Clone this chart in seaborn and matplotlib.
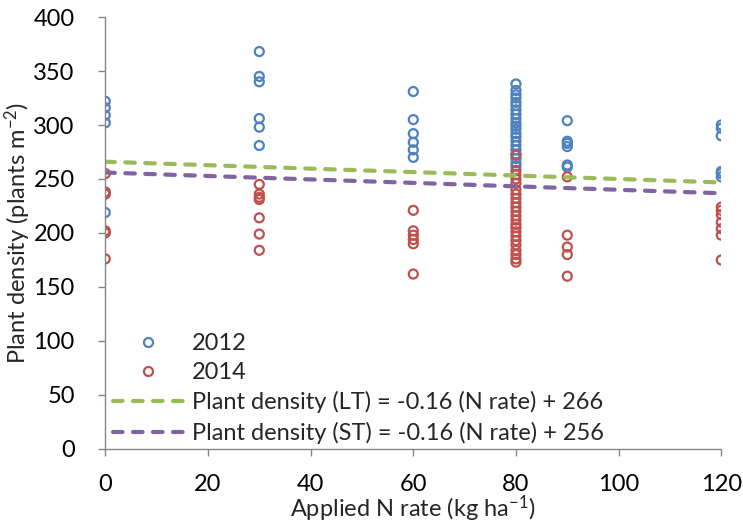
import numpy as np
import pandas as pd
import matplotlib
matplotlib.use("Agg")
import matplotlib.pyplot as plt
from matplotlib.lines import Line2D
import seaborn as sns

# Plant density observations (plants m-2) by applied N rate (kg ha-1)
n_rates = [0, 30, 60, 80, 90, 120]

density_2012 = {
    0: [322, 316, 309, 302, 237, 219],
    30: [368, 345, 340, 306, 298, 281],
    60: [331, 305, 292, 284, 277, 270],
    80: [338, 332, 328, 325, 321, 318, 314, 310, 306, 302, 299, 296,
         292, 289, 285, 281, 277, 273, 269, 265, 262],
    90: [304, 285, 283, 280, 263, 261],
    120: [300, 297, 290, 257, 255, 252],
}

density_2014 = {
    0: [255, 238, 236, 202, 200, 176],
    30: [245, 236, 233, 231, 214, 199, 184],
    60: [221, 202, 198, 194, 190, 162],
    80: [272, 258, 254, 250, 246, 240, 236, 232, 228, 224, 220, 216,
         212, 208, 205, 201, 197, 193, 189, 184, 180, 176, 173],
    90: [252, 198, 187, 180, 160],
    120: [224, 221, 217, 210, 204, 198, 175],
}

# Linear fits: density = slope * N rate + intercept
fit_names = ["LT", "ST"]
fit_slopes = [-0.16, -0.16]
fit_intercepts = [266, 256]
fit_range = [0, 120]

years = ["2012", "2014"]
year_colors = ["#4F81BD", "#C0504D"]
fit_colors = ["#9BBB59", "#8064A2"]

rows = []
for year, table in zip(years, [density_2012, density_2014]):
    for rate in n_rates:
        for v in table[rate]:
            rows.append({"N rate": rate, "density": v, "year": year})
obs = pd.DataFrame(rows)

fit_rows = []
for name, m, b in zip(fit_names, fit_slopes, fit_intercepts):
    label = f"Plant density ({name}) = {m:.2f} (N rate) + {b}"
    for xv in fit_range:
        fit_rows.append({"N rate": xv, "density": b + m * xv, "fit": label})
fits = pd.DataFrame(fit_rows)
fit_labels = list(fits["fit"].unique())

sns.set_theme(style="ticks")
plt.rcParams["font.family"] = ["Lato", "DejaVu Sans"]
plt.rcParams["mathtext.fontset"] = "custom"
plt.rcParams["mathtext.rm"] = "Lato"
plt.rcParams["mathtext.it"] = "Lato:italic"

FS = 17
LW_FIT = 3.0
DASH = (2.3, 2.5)

fig = plt.figure(figsize=(7.43, 5.25), dpi=100)
ax = fig.add_axes([0.1417, 0.1448, 0.8291, 0.8228])

# open circles, one colour per year
sns.scatterplot(
    data=obs, x="N rate", y="density", hue="year",
    palette=dict(zip(years, year_colors)), ax=ax,
    marker="o", s=42, linewidth=1.6, legend=False,
)
for coll in ax.collections:
    coll.set_edgecolor(coll.get_facecolors())
    coll.set_facecolor("none")

sns.lineplot(
    data=fits, x="N rate", y="density", hue="fit",
    palette=dict(zip(fit_labels, fit_colors)), ax=ax,
    linewidth=LW_FIT, legend=False,
)
for line in ax.lines:
    line.set_dashes(DASH)
    line.set_dash_capstyle("round")

ax.set_xlim(0, 120)
ax.set_ylim(0, 400)
ax.set_xticks(np.arange(0, 121, 20))
ax.set_yticks(np.arange(0, 401, 50))

spine_col = "#868686"
for side in ["top", "right"]:
    ax.spines[side].set_visible(False)
for side in ["left", "bottom"]:
    ax.spines[side].set_color(spine_col)
    ax.spines[side].set_linewidth(1.0)
ax.tick_params(axis="both", colors=spine_col, labelcolor="black",
               labelsize=FS, length=5, width=1.0, direction="out")
ax.tick_params(axis="x", pad=13)
ax.tick_params(axis="y", pad=17)

ax.set_xlabel("Applied N rate (kg ha$^{-1}$)", fontsize=FS, labelpad=-1)
ax.set_ylabel("Plant density (plants m$^{-2}$)", fontsize=FS, labelpad=0)

handles = [
    Line2D([], [], linestyle="none", marker="o", markersize=6.5,
           markerfacecolor="none", markeredgecolor=c, markeredgewidth=1.6)
    for c in year_colors
]
for c in fit_colors:
    handles.append(Line2D([], [], color=c, linewidth=LW_FIT, dashes=DASH,
                          dash_capstyle="round"))
ax.legend(handles, years + fit_labels, loc="lower left",
          bbox_to_anchor=(0.012, 0.012), frameon=False, fontsize=FS,
          handlelength=3.0, handletextpad=0.35, labelspacing=0.35,
          borderpad=0, borderaxespad=0)

fig.savefig("out.png", dpi=100)
